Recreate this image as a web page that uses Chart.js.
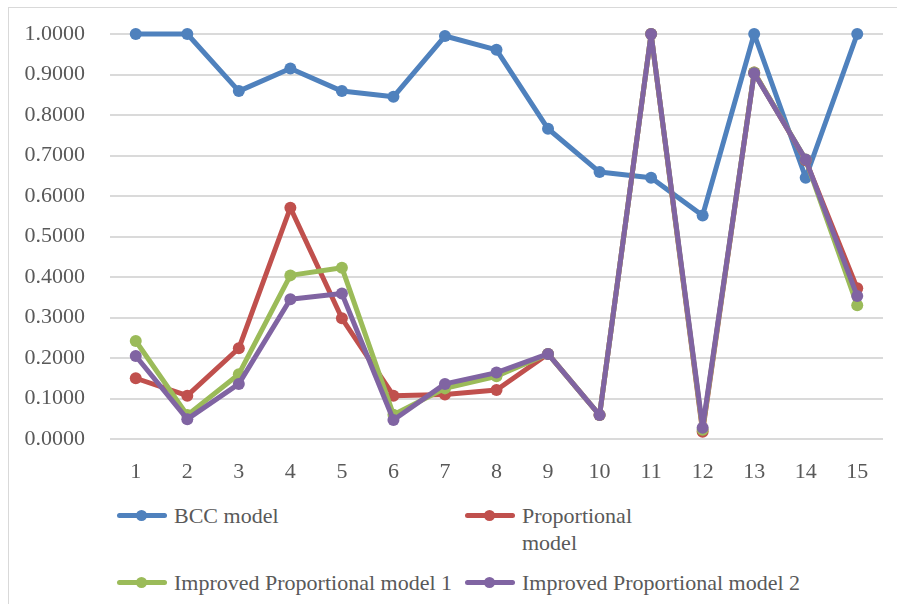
<!DOCTYPE html>
<html>
<head>
<meta charset="utf-8">
<script src="https://cdn.jsdelivr.net/npm/chart.js@4.4.1/dist/chart.umd.min.js"></script>
<style>
  body { margin: 0; width: 897px; height: 604px; position: relative; overflow: hidden; background: #fff; }
  #marco { position: absolute; left: 8px; top: 7px; width: 950px; height: 650px;
           border-top: 1px solid #d9d9d9; border-left: 1px solid #d9d9d9; }
  #caja { position: absolute; left: 0; top: 0; width: 897px; height: 490px; }
  #leyenda { position: absolute; left: 117px; top: 502px; display: grid;
             grid-template-columns: 348px 348px; row-gap: 13px;
             font-family: "Liberation Serif", "Times New Roman", serif; font-size: 22px;
             line-height: 27px; color: #595959; }
  .item { display: flex; align-items: flex-start; }
  .muestra { position: relative; width: 50px; height: 27px; flex: none; }
  .muestra .linea { position: absolute; left: 0; top: 11px; width: 50px; height: 5px; border-radius: 3px; }
  .muestra .punto { position: absolute; left: 19px; top: 8px; width: 11px; height: 11px; border-radius: 50%; }
  .texto { margin-left: 7px; }
  .item:nth-child(-n+2) .texto { max-width: 150px; }
</style>
</head>
<body>
<div id="marco"></div>
<div id="caja"><canvas id="grafica"></canvas></div>
<div id="leyenda"></div>
<script>
// Datos
const categorias = ['1','2','3','4','5','6','7','8','9','10','11','12','13','14','15'];
const nombres = ['BCC model', 'Proportional model', 'Improved Proportional model 1', 'Improved Proportional model 2'];
const bcc =      [1.000, 1.000, 0.859, 0.915, 0.859, 0.845, 0.995, 0.961, 0.766, 0.659, 0.645, 0.552, 1.000, 0.645, 1.000];
const proporc =  [0.150, 0.107, 0.224, 0.571, 0.298, 0.107, 0.110, 0.121, 0.210, 0.059, 1.000, 0.018, 0.905, 0.688, 0.372];
const mejorado1 =[0.242, 0.059, 0.160, 0.404, 0.423, 0.060, 0.125, 0.155, 0.210, 0.059, 1.000, 0.023, 0.905, 0.690, 0.330];
const mejorado2 =[0.205, 0.049, 0.136, 0.345, 0.359, 0.047, 0.136, 0.164, 0.210, 0.059, 1.000, 0.028, 0.903, 0.690, 0.353];
const colores = ['#4f81bd', '#c0504d', '#9bbb59', '#8064a2'];
const series = [bcc, proporc, mejorado1, mejorado2];

const fuente = '"Liberation Serif", "Times New Roman", serif';

const datasets = series.map((valores, i) => ({
    label: nombres[i],
    data: valores,
    borderColor: colores[i],
    backgroundColor: colores[i],
    pointBackgroundColor: colores[i],
    borderWidth: 5,
    pointRadius: 6,
    pointBorderWidth: 0,
    borderJoinStyle: 'round',
    borderCapStyle: 'round',
    tension: 0,
    clip: false,
    order: series.length - i   // la ultima serie queda encima
}));

const ctx = document.getElementById('grafica').getContext('2d');
const grafica = new Chart(ctx, {
    type: 'line',
    data: { labels: categorias, datasets: datasets },
    options: {
        responsive: true,
        maintainAspectRatio: false,
        animation: false,
        layout: { padding: { top: 34, right: 14, left: 0, bottom: 0 } },
        plugins: { legend: { display: false }, tooltip: { enabled: false } },
        scales: {
            x: {
                offset: true,
                grid: { display: false },
                border: { display: false },
                ticks: { color: '#595959', font: { family: fuente, size: 22 }, padding: 12, maxRotation: 0 },
                afterFit: (s) => { s.height = 51; }
            },
            y: {
                min: 0,
                max: 1,
                // la marca invisible separa las etiquetas del area sin empujar el borde superior
                grid: { color: '#dadada', lineWidth: 2, drawTicks: true, tickLength: 21, tickColor: 'rgba(0,0,0,0)' },
                border: { display: false },
                ticks: {
                    stepSize: 0.1,
                    color: '#595959',
                    font: { family: fuente, size: 22 },
                    padding: 4,
                    callback: (v) => v.toFixed(4)
                },
                afterFit: (s) => { s.width = 110; }
            }
        }
    }
});

// Leyenda propia en dos columnas
const leyenda = document.getElementById('leyenda');
nombres.forEach((nombre, i) => {
    const item = document.createElement('div');
    item.className = 'item';
    item.innerHTML = '<div class="muestra"><div class="linea" style="background:' + colores[i] +
        '"></div><div class="punto" style="background:' + colores[i] + '"></div></div>' +
        '<span class="texto">' + nombre + '</span>';
    leyenda.appendChild(item);
});
</script>
</body>
</html>
